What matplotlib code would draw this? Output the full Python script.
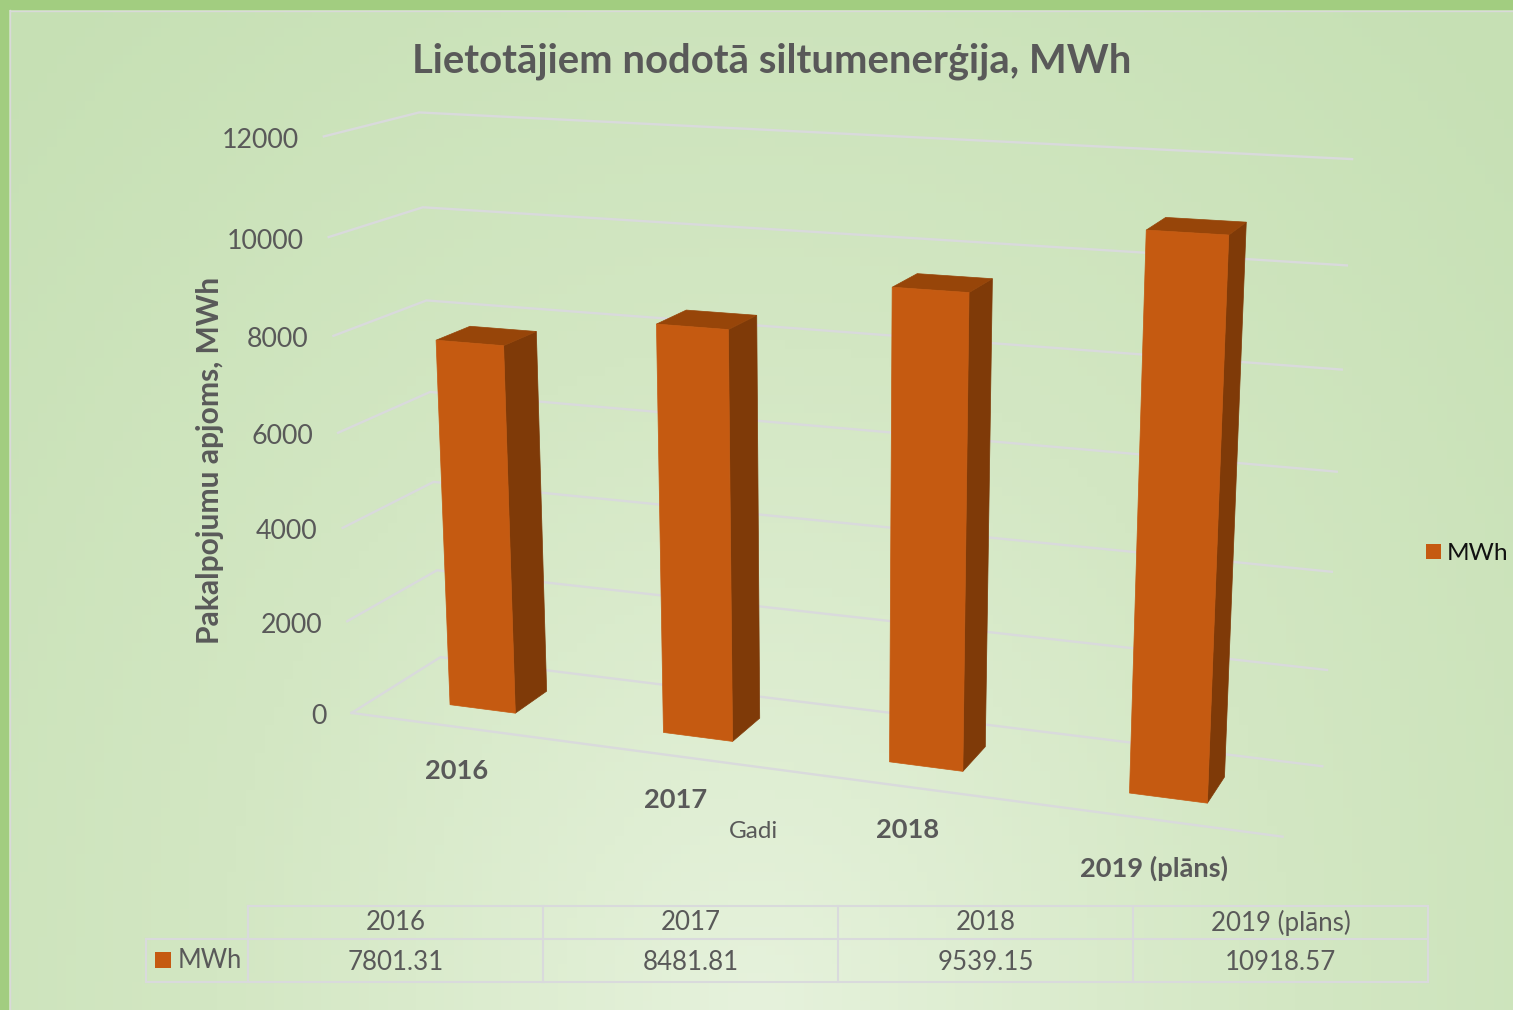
import numpy as np
from matplotlib import pyplot as plt
from matplotlib.colors import LinearSegmentedColormap
from matplotlib.patches import Polygon, Rectangle

years = ['2016', '2017', '2018', '2019 (plāns)']
values = [7801.31, 8481.81, 9539.15, 10918.57]
value_labels = ['7801.31', '8481.81', '9539.15', '10918.57']
y_ticks = [0, 2000, 4000, 6000, 8000, 10000, 12000]
series_name = 'MWh'

GREY = '#595959'
GRID = '#d9dadc'
FRONT = '#c55a11'
SIDE = '#7f3a08'
TOP = '#974509'

plt.rcParams['font.family'] = ['Lato', 'DejaVu Sans']

# corners of the 3d box: (x, depth, value share) -> picture pixel
box = [(0, 0, 0), (0, 0, 1), (0, 1, 0), (0, 1, 1), (1, 1, 0), (1, 1, 1), (1, 0, 0)]
pix = [(352, 713), (323, 137), (440, 657), (420, 112), (1322, 767), (1352, 159), (1283, 836)]


def fit_camera():
    rows = []
    for (x, d, z), (u, v) in zip(box, pix):
        p = [x, d, z, 1]
        rows.append(p + [0, 0, 0, 0] + [-u * c for c in p])
        rows.append([0, 0, 0, 0] + p + [-v * c for c in p])
    return np.linalg.svd(np.array(rows, dtype=float))[2][-1].reshape(3, 4)


camera = fit_camera()


def project(x, d, value):
    u, v, w = camera @ np.array([x, d, value / y_ticks[-1], 1.0])
    return u / w, v / w


fig = plt.figure(figsize=(15.13, 10.10), dpi=100)
ax = fig.add_axes([0, 0, 1, 1])
ax.set_xlim(0, 1513)
ax.set_ylim(1010, 0)
ax.axis('off')

# background
gx, gy = np.meshgrid(np.linspace(0, 1, 160), np.linspace(0, 1, 110))
dist = np.sqrt(((gx - 0.5) / 0.62) ** 2 + ((gy - 1.0) / 1.15) ** 2)
cmap = LinearSegmentedColormap.from_list('bg', ['#e6f2dc', '#d3e7c3', '#c6e0b4'])
ax.imshow(dist, extent=(0, 1513, 1010, 0), cmap=cmap, vmin=0, vmax=1.15, aspect='auto', zorder=0)
ax.add_patch(Rectangle((0, 0), 1513, 10, color='#a2cd80', lw=0, zorder=1))
ax.add_patch(Rectangle((0, 0), 9, 1010, color='#a2cd80', lw=0, zorder=1))
ax.plot([10, 1513], [10.5, 10.5], color='#d9d9d9', lw=1, zorder=1)
ax.plot([10, 10], [10, 1010], color='#d9d9d9', lw=1, zorder=1)

ax.text(772, 61, 'Lietotājiem nodotā siltumenerģija, MWh', ha='center', va='center',
        fontsize=28.8, fontweight='bold', color=GREY)
ax.text(210, 460, 'Pakalpojumu apjoms, MWh', rotation=90, ha='center', va='center',
        fontsize=21.6, fontweight='bold', color=GREY)

# grid
for tick in y_ticks:
    a, b, c = project(0, 0, tick), project(0, 1, tick), project(1, 1, tick)
    ax.plot([a[0], b[0], c[0]], [a[1], b[1], c[1]], color=GRID, lw=1.7, zorder=2)
    ax.text(a[0] - 25, a[1] + 4, str(tick), ha='right', va='center', fontsize=19.3, color=GREY)
a, b = project(0, 0, 0), project(1, 0, 0)
ax.plot([a[0], b[0]], [a[1], b[1]], color=GRID, lw=1.7, zorder=2)

# bars
bar_w = 0.078
d0, d1 = 0.3, 0.68
for i, val in enumerate(values):
    x0 = (i + 0.5) / 4 - bar_w / 2
    x1 = x0 + bar_w
    ax.add_patch(Polygon([project(x1, d0, 0), project(x1, d1, 0), project(x1, d1, val), project(x1, d0, val)],
                         color=SIDE, lw=0.5, zorder=3))
    ax.add_patch(Polygon([project(x0, d0, val), project(x1, d0, val), project(x1, d1, val), project(x0, d1, val)],
                         color=TOP, lw=0.5, zorder=3))
    ax.add_patch(Polygon([project(x0, d0, 0), project(x1, d0, 0), project(x1, d0, val), project(x0, d0, val)],
                         color=FRONT, lw=0.5, zorder=4))

label_pos = [(457, 771), (676, 800), (908, 830), (1154, 868)]
for year, (lx, ly) in zip(years, label_pos):
    ax.text(lx, ly, year, ha='center', va='center', fontsize=19.6, fontweight='bold', color=GREY)
ax.text(754, 832, 'Gadi', ha='center', va='center', fontsize=17.5, color=GREY)

# legend
ax.add_patch(Rectangle((1426, 544), 15, 15, color=FRONT, lw=0, zorder=5))
ax.text(1447, 553, series_name, ha='left', va='center', fontsize=17.6, color='#111111')

# data table
col_x = [248, 543, 838, 1133, 1428]
ax.plot([248, 1428], [906, 906], color=GRID, lw=1.5)
ax.plot([146, 1428], [939, 939], color=GRID, lw=1.5)
ax.plot([146, 1428], [982, 982], color=GRID, lw=1.5)
ax.plot([146, 146], [939, 982], color=GRID, lw=1.5)
for x in col_x:
    ax.plot([x, x], [906, 982], color=GRID, lw=1.5)
for i in range(len(years)):
    cx = (col_x[i] + col_x[i + 1]) / 2
    ax.text(cx, 923, years[i], ha='center', va='center', fontsize=18.6, color=GREY)
    ax.text(cx, 962, value_labels[i], ha='center', va='center', fontsize=18.6, color=GREY)
ax.add_patch(Rectangle((155, 952), 16, 16, color=FRONT, lw=0, zorder=5))
ax.text(178, 961, series_name, ha='left', va='center', fontsize=18.4, color=GREY)

ax.set_xlim(0, 1513)
ax.set_ylim(1010, 0)
fig.savefig('out.png', dpi=100)
